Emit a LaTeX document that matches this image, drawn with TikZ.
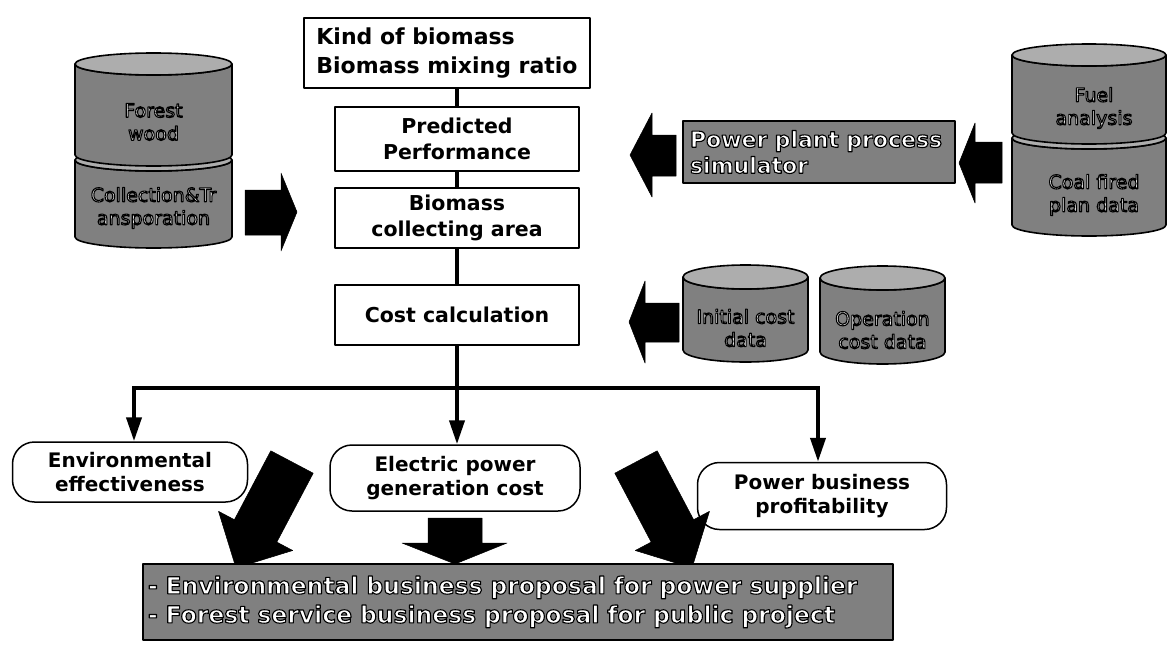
\documentclass[tikz,border=0pt]{standalone}
\usepackage{fontspec}
\setmainfont{DejaVu Sans}
\usetikzlibrary{arrows.meta}
\definecolor{dbgray}{gray}{0.50}
\definecolor{dbtop}{gray}{0.68}
\newcommand{\wt}[1]{\special{pdf:literal direct 2 Tr 0 G 1.1 w}#1\special{pdf:literal direct 0 Tr}}
\newcommand{\dbcyl}[5]{%
  \filldraw[fill=dbgray,draw=black,line width=1.6pt]
    (#1,#3) -- (#1,#4) arc[start angle=180,end angle=0,x radius={(#2-#1)/2},y radius=#5]
    -- (#2,#3) arc[start angle=0,end angle=180,x radius={(#2-#1)/2},y radius=#5] -- cycle;
  \filldraw[fill=dbtop,draw=black,line width=1.6pt]
    ({(#1+#2)/2},#3) ellipse[x radius={(#2-#1)/2},y radius=#5];
}
\begin{document}
\begin{tikzpicture}[x=1pt,y=-1pt,line join=round,
  box/.style={draw,line width=1.3pt,fill=white,align=center,inner sep=0pt,
    font=\bfseries\fontsize{20.5}{26}\selectfont},
  rbox/.style={draw,line width=1.5pt,fill=white,align=center,inner sep=0pt,
    rounded corners=22pt,font=\bfseries\fontsize{20}{23.5}\selectfont},
  graybox/.style={draw,line width=1.6pt,fill=dbgray,text=white,inner sep=0pt},
  dbtext/.style={text=white,align=center,inner sep=0pt,
    font=\fontsize{19}{23}\selectfont},
  conn/.style={line width=4pt},
  arr/.style={conn,-{Triangle[length=24pt,width=15pt]}},
  blk/.style={fill=black,draw=black,line width=0.5pt}]
\useasboundingbox (0,0) rectangle (1170,653);

% ---- main column ----
\node[box,minimum width=286pt,minimum height=70pt,align=left,
  font=\bfseries\fontsize{22}{29}\selectfont] (kind) at (447,53)
  {Kind of biomass\\Biomass mixing ratio};
\node[box,minimum width=244pt,minimum height=64pt] (pred) at (457,139)
  {Predicted\\Performance};
\node[box,minimum width=244pt,minimum height=60pt] (area) at (457,218)
  {Biomass\\collecting area};
\node[box,minimum width=244pt,minimum height=60pt] (cost) at (457,315)
  {Cost calculation};

\draw[conn] (pred.north |- kind.south) -- (pred.north);
\draw[conn] (pred.south) -- (area.north);
\draw[conn] (area.south) -- (cost.north);

% ---- result boxes ----
\node[rbox,minimum width=235pt,minimum height=60pt] (env) at (130,472)
  {Environmental\\effectiveness};
\node[rbox,minimum width=250pt,minimum height=66pt] (elec) at (455,478)
  {Electric power\\generation cost};
\node[rbox,minimum width=249pt,minimum height=67pt] (prof) at (822,496)
  {Power business\\profitability};

\coordinate (split) at (457,388);
\coordinate (L) at (134,388);
\coordinate (R) at (818,388);
\draw[conn] (cost.south) -- (split);
\draw[conn,line cap=rect] (L) -- (R);
\draw[arr] (L) -- (L |- env.north);
\draw[arr] (split) -- (split |- elec.north);
\draw[arr] (R) -- (R |- prof.north);

% ---- left database stack ----
\dbcyl{75}{232}{160}{237}{11}
\dbcyl{75}{232}{64}{155}{11}
\node[dbtext] (forest) at (153.5,122) {\wt{Forest}\\\wt{wood}};
\node[dbtext] (coll) at (153.5,208) {\wt{Collection\&Tr}\\\wt{ansporation}};

% ---- right database stack ----
\dbcyl{1012}{1166}{138}{225}{11}
\dbcyl{1012}{1166}{55}{133}{11}
\node[dbtext] (fuel) at (1094,108) {\wt{Fuel}\\\wt{analysis}};
\node[dbtext] (coal) at (1094,195) {\wt{Coal fired}\\\wt{plan data}};

% ---- cost databases ----
\dbcyl{683}{808}{277}{350}{12}
\dbcyl{820}{945}{278}{352}{12}
\node[dbtext] (init) at (745.5,328) {\wt{Initial cost}\\\wt{data}};
\node[dbtext] (oper) at (882.5,330) {\wt{Operation}\\\wt{cost data}};

% ---- simulator ----
\node[graybox,minimum width=272pt,minimum height=62pt,align=left,
  text width=258pt,font=\bfseries\fontsize{22}{26}\selectfont] (sim) at (819,152)
  {\wt{Power plant process}\\\wt{simulator}};

% ---- block arrows ----
\fill[blk] (245,190) -- (281,190) -- (281,173) -- (297,212) -- (281,251)
  -- (281,235) -- (245,235) -- cycle;
\fill[blk] (676,135) -- (652,135) -- (652,113) -- (630,155) -- (652,197)
  -- (652,176) -- (676,176) -- cycle;
\fill[blk] (1002,142) -- (975,142) -- (975,123) -- (959,163) -- (975,203)
  -- (975,183) -- (1002,183) -- cycle;
\fill[blk] (679,303) -- (645,303) -- (645,281) -- (629,322) -- (645,363)
  -- (645,342) -- (679,342) -- cycle;
\fill[blk] (428,518) -- (482,518) -- (482,543) -- (507,543) -- (455,564)
  -- (402,543) -- (428,543) -- cycle;
\fill[blk] (270.8,450.8) -- (313.2,473.2) -- (276.8,542.1) -- (292.7,550.5)
  -- (236,568) -- (218.5,511.3) -- (234.4,519.7) -- cycle;
\fill[blk] (657.2,450.8) -- (614.8,473.2) -- (651.2,542.1) -- (635.3,550.5)
  -- (692,568) -- (709.5,511.3) -- (693.6,519.7) -- cycle;

% ---- banner ----
\node[graybox,line width=2pt,minimum width=750pt,minimum height=76pt,align=left,
  text width=740pt,font=\bfseries\fontsize{23.5}{29}\selectfont] (ban) at (518,602)
  {\wt{- Environmental business proposal for power supplier}\\
   \wt{- Forest service business proposal for public project}};
\end{tikzpicture}
\end{document}
